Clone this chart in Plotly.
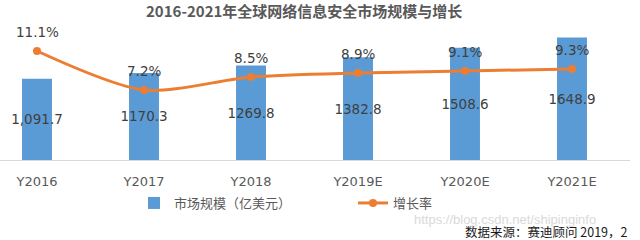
import plotly.graph_objects as go

categories = ["Y2016", "Y2017", "Y2018", "Y2019E", "Y2020E", "Y2021E"]
market_size = [1091.7, 1170.3, 1269.8, 1382.8, 1508.6, 1648.9]
market_labels = ["1,091.7", "1170.3", "1269.8", "1382.8", "1508.6", "1648.9"]
growth = [11.1, 7.2, 8.5, 8.9, 9.1, 9.3]
growth_labels = ["11.1%", "7.2%", "8.5%", "8.9%", "9.1%", "9.3%"]

FONT = "DejaVu Sans, Noto Sans CJK SC"
CJK = "Noto Sans CJK SC, DejaVu Sans"
PW = 630  # plot width in px

fig = go.Figure()
fig.add_trace(go.Bar(
    x=list(range(len(categories))), y=market_size, name="市场规模（亿美元）",
    marker=dict(color="#5B9BD5", line=dict(width=0)), width=0.28,
    text=market_labels, textposition="inside", insidetextanchor="middle",
    constraintext="none", cliponaxis=False,
    textfont=dict(color="#404040", size=13.5, family=FONT), textangle=0,
))
fig.add_trace(go.Scatter(
    x=list(range(len(categories))), y=growth, name="增长率", yaxis="y2",
    mode="lines+markers", line=dict(color="#ED7D31", width=3, shape="spline", smoothing=0.8),
    marker=dict(color="#ED7D31", size=8),
))

for i, (g, lab) in enumerate(zip(growth, growth_labels)):
    fig.add_annotation(x=i, y=g, yref="y2", text=lab, showarrow=False, yshift=19,
                       font=dict(color="#404040", size=13.5, family=FONT))

fig.add_annotation(xref="paper", yref="paper", x=304/PW, y=1.0, yshift=2,
                   xanchor="center", yanchor="top", showarrow=False,
                   text="<b>2016-2021年全球网络信息安全市场规模与增长</b>",
                   font=dict(color="#595959", size=15, family=CJK))
fig.add_annotation(xref="paper", yref="paper", x=412/PW, y=(160-219)/160,
                   xanchor="left", yanchor="middle", showarrow=False,
                   text="https://blog.csdn.net/shipinginfo",
                   font=dict(color="#d9d9d9", size=13, family="Liberation Sans Narrow, Liberation Sans"))
fig.add_annotation(xref="paper", yref="paper", x=630/PW, y=(160-231)/160,
                   xanchor="right", yanchor="middle", showarrow=False,
                   text="数据来源：赛迪顾问 2019，2",
                   font=dict(color="#1a1a1a", size=12.5, family=CJK))

fig.update_layout(
    width=640, height=240, margin=dict(l=0, r=10, t=0, b=80),
    paper_bgcolor="white", plot_bgcolor="white",
    showlegend=True,
    legend=dict(orientation="h", x=134/PW, y=(160-203)/160, xanchor="left", yanchor="middle",
                font=dict(color="#595959", size=13, family=CJK), entrywidth=174,
                bgcolor="rgba(0,0,0,0)", itemwidth=30),
    xaxis=dict(range=[-37/107, (PW-37)/107], tickvals=list(range(len(categories))),
               ticktext=categories, showgrid=False, zeroline=False,
               showline=True, linecolor="#D9D9D9", linewidth=1,
               ticks="", ticklabelstandoff=9,
               tickfont=dict(color="#595959", size=13, family=FONT)),
    yaxis=dict(range=[0, 160*13.45], visible=False, showgrid=False),
    yaxis2=dict(range=[0.2, 16.2], overlaying="y", side="right", visible=False, showgrid=False),
    font=dict(family=FONT),
)

fig.write_html("out.html")
